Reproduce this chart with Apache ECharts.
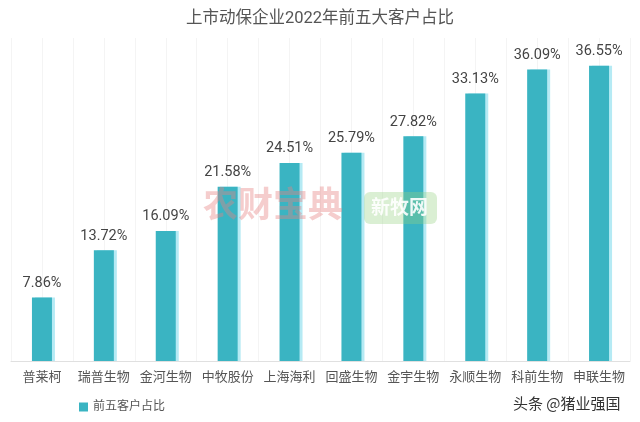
<!DOCTYPE html>
<html>
<head>
<meta charset="utf-8">
<script src="https://cdn.jsdelivr.net/npm/echarts@6/dist/echarts.min.js"></script>
<style>html,body{margin:0;padding:0;background:#fff}#c{width:640px;height:422px}</style>
</head>
<body>
<div id="c"></div>
<script>
var categories = ['普莱柯','瑞普生物','金河生物','中牧股份','上海海利','回盛生物','金宇生物','永顺生物','科前生物','申联生物'];
var values = [7.86, 13.72, 16.09, 21.58, 24.51, 25.79, 27.82, 33.13, 36.09, 36.55];
var seriesName = '前五客户占比';
var titleText = '上市动保企业2022年前五大客户占比';

var chart = echarts.init(document.getElementById('c'));
var font = 'Roboto, "Noto Sans CJK SC", sans-serif';
chart.setOption({
  animation: false,
  backgroundColor: '#fff',
  title: {
    text: titleText, left: 'center', top: 6,
    textStyle: {fontSize: 16.5, fontWeight: 'normal', color: '#555', fontFamily: font}
  },
  legend: {
    left: 74, top: 396, itemWidth: 9, itemHeight: 9, itemGap: 5,
    icon: 'rect',
    textStyle: {fontSize: 12, color: '#555', fontFamily: font},
    data: [seriesName]
  },
  grid: {left: 11, right: 10, top: 38, bottom: 61, containLabel: false},
  xAxis: [{
    type: 'category', data: categories,
    axisLine: {lineStyle: {color: '#e0e0e0'}},
    axisTick: {show: false},
    axisLabel: {interval: 0, fontSize: 13, color: '#555', margin: 10, fontFamily: font},
    splitLine: {show: false}
  }, {
    type: 'value', min: 0, max: 20, interval: 1, show: true, position: 'top',
    axisLine: {show: false}, axisTick: {show: false}, axisLabel: {show: false},
    splitLine: {show: true, lineStyle: {color: '#f4f4f4', width: 1}}
  }],
  yAxis: {
    type: 'value', min: 0, max: 40, show: false, splitLine: {show: false}
  },
  graphic: [
    {type: 'text', left: 513, top: 396, z: 100, style: {text: '头条 @猪业强国', fill: '#333', font: '15px "Noto Sans CJK SC", sans-serif'}},
    {type: 'text', left: 203, top: 186, z: 100, style: {text: '农财宝典', fill: 'rgba(230,130,130,0.4)', font: 'bold 35px "Noto Sans CJK SC", sans-serif'}},
    {type: 'rect', left: 364, top: 192, z: 100, shape: {width: 73, height: 32, r: 6}, style: {fill: 'rgba(150,210,130,0.35)'}},
    {type: 'text', left: 371, top: 197, z: 101, style: {text: '新牧网', fill: 'rgba(255,255,255,0.9)', font: 'bold 19px "Noto Sans CJK SC", sans-serif'}}
  ],
  series: [{
    name: seriesName, type: 'bar', data: values, barWidth: 20,
    xAxisIndex: 0,
    itemStyle: {color: '#3ab4c2', shadowColor: 'rgba(150,225,240,0.7)', shadowOffsetX: 3, shadowBlur: 0},
    label: {show: true, position: 'top', distance: 7, formatter: function(p){return p.value.toFixed(2) + '%';},
      fontSize: 14.5, color: '#444', fontFamily: font}
  }]
});
</script>
</body>
</html>
